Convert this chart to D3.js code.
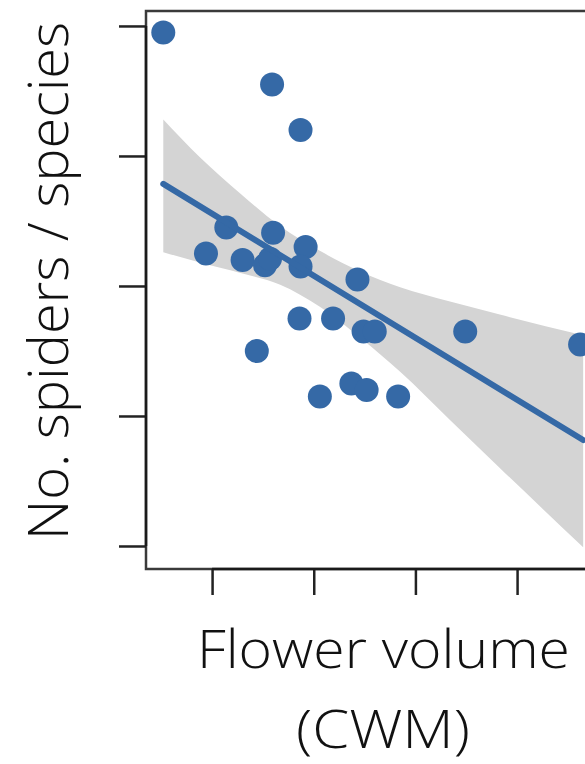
<!DOCTYPE html>
<html>
<head>
<meta charset="utf-8">
<script src="https://cdn.jsdelivr.net/npm/d3@7/dist/d3.min.js"></script>
<style>
  html, body { margin: 0; padding: 0; background: #fff; }
  svg { display: block; }
  .title { font-family: "Open Sans", Lato, "DejaVu Sans", sans-serif; font-weight: 300; fill: #111; }
</style>
</head>
<body>
<svg id="chart" width="585" height="764"></svg>
<script>
// Scatter of spider counts against flower volume, with a linear fit and its band.

const flowerVolume = [0.52, 1.59, 1.87, 1.14, 0.94, 1.60, 1.30, 1.52, 1.57, 1.92, 1.87, 2.43,
  1.86, 2.19, 2.49, 2.60, 3.49, 4.62, 1.44, 2.37, 2.52, 2.06, 2.83];
const spiders = [4.95, 4.55, 4.20, 3.45, 3.25, 3.41, 3.20, 3.16, 3.21, 3.30, 3.15, 3.05,
  2.75, 2.75, 2.65, 2.65, 2.65, 2.55, 2.50, 2.25, 2.20, 2.15, 2.15];

// Fitted line endpoints.
const fitX = [0.52, 4.65];
const fitY = [3.785, 1.815];

// Confidence band read at several x positions.
const bandX = [0.52, 0.88, 1.28, 1.67, 2.06, 2.46, 2.85, 3.34, 3.83, 4.65];
const bandHi = [4.28, 3.99, 3.71, 3.46, 3.27, 3.11, 2.99, 2.88, 2.78, 2.62];
const bandLo = [3.26, 3.18, 3.10, 3.01, 2.84, 2.60, 2.34, 1.97, 1.60, 0.99];

const xTicks = [1, 2, 3, 4];
const yTicks = [1, 2, 3, 4, 5];

const BLUE = "#3569a6";
const BAND = "#d4d4d4";

const plot = { left: 146, top: 11, right: 604, bottom: 569 };

const svg = d3.select("#chart");

const x = d3.scaleLinear().domain([0.35, 4.855]).range([plot.left, plot.right]);
const y = d3.scaleLinear().domain([0.823, 5.115]).range([plot.bottom, plot.top]);

// Band.
const bandData = bandX.map((v, i) => ({ x: v, lo: bandLo[i], hi: bandHi[i] }));
svg.append("path")
  .datum(bandData)
  .attr("fill", BAND)
  .attr("d", d3.area()
    .curve(d3.curveMonotoneX)
    .x((d) => x(d.x))
    .y0((d) => y(d.lo))
    .y1((d) => y(d.hi)));

// Points.
svg.append("g")
  .selectAll("circle")
  .data(flowerVolume.map((v, i) => ({ x: v, y: spiders[i] })))
  .join("circle")
  .attr("cx", (d) => x(d.x))
  .attr("cy", (d) => y(d.y))
  .attr("r", 12)
  .attr("fill", BLUE);

// Fit line.
svg.append("path")
  .datum(fitX.map((v, i) => [v, fitY[i]]))
  .attr("fill", "none")
  .attr("stroke", BLUE)
  .attr("stroke-width", 6)
  .attr("stroke-linecap", "round")
  .attr("d", d3.line().x((d) => x(d[0])).y((d) => y(d[1])));

// Box.
svg.append("rect")
  .attr("x", plot.left)
  .attr("y", plot.top)
  .attr("width", plot.right - plot.left)
  .attr("height", plot.bottom - plot.top)
  .attr("fill", "none")
  .attr("stroke", "#3a3a3a")
  .attr("stroke-width", 2.5);

// Axes: ticks only, no labels; the axis line runs from first to last tick.
const yAxis = svg.append("g")
  .attr("transform", `translate(${plot.left},0)`)
  .call(d3.axisLeft(y).tickValues(yTicks).tickSize(27).tickFormat(""));
const xAxis = svg.append("g")
  .attr("transform", `translate(0,${plot.bottom})`)
  .call(d3.axisBottom(x).tickValues(xTicks).tickSize(26).tickFormat(""));
[yAxis, xAxis].forEach((a) => {
  a.select(".domain").remove();
  a.selectAll(".tick line").attr("stroke", "#222").attr("stroke-width", 2.5);
});
svg.append("line")
  .attr("x1", plot.left).attr("x2", plot.left)
  .attr("y1", y(yTicks[0])).attr("y2", y(yTicks[yTicks.length - 1]))
  .attr("stroke", "#1a1a1a").attr("stroke-width", 2.5);
svg.append("line")
  .attr("y1", plot.bottom).attr("y2", plot.bottom)
  .attr("x1", x(xTicks[0])).attr("x2", plot.right)
  .attr("stroke", "#1a1a1a").attr("stroke-width", 2.5);

// Axis titles.
svg.append("text")
  .attr("class", "title")
  .attr("transform", "translate(68,281) rotate(-90)")
  .attr("text-anchor", "middle")
  .attr("font-size", 56)
  .attr("textLength", 518)
  .attr("lengthAdjust", "spacingAndGlyphs")
  .text("No. spiders / species");

svg.append("text")
  .attr("class", "title")
  .attr("x", 383.5)
  .attr("y", 668)
  .attr("text-anchor", "middle")
  .attr("font-size", 54)
  .attr("textLength", 373)
  .attr("lengthAdjust", "spacingAndGlyphs")
  .text("Flower volume");

svg.append("text")
  .attr("class", "title")
  .attr("x", 383)
  .attr("y", 748)
  .attr("text-anchor", "middle")
  .attr("font-size", 54)
  .attr("textLength", 174)
  .attr("lengthAdjust", "spacingAndGlyphs")
  .text("(CWM)");
</script>
</body>
</html>
